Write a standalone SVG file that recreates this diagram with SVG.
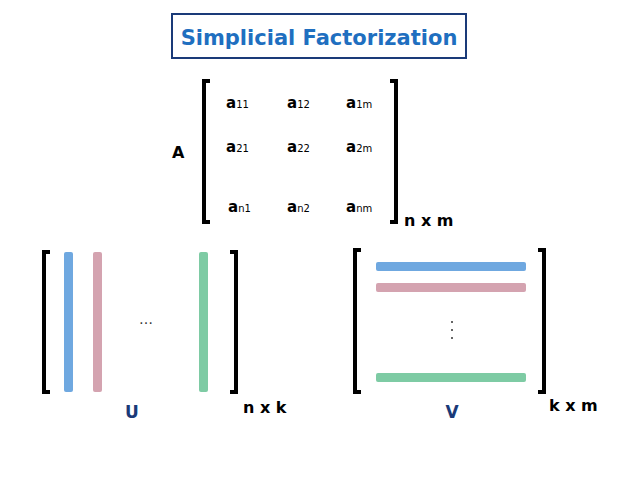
<svg xmlns="http://www.w3.org/2000/svg" width="638" height="479" viewBox="0 0 638 479">
<style>
.br{fill:none;stroke:#000;stroke-width:4}
.t{font-family:"DejaVu Sans",sans-serif;font-size:15px;font-weight:bold;fill:#000}
.s{font-size:10px;font-weight:normal}
.lab{font-family:"DejaVu Sans",sans-serif;font-size:16px;font-weight:bold;fill:#000}
.uv{font-family:"DejaVu Sans",sans-serif;font-size:17px;font-weight:bold;fill:#1a3a78}
</style>
<rect width="638" height="479" fill="#fff"/>
<g id="title">
<rect x="172" y="14" width="294" height="44" fill="#fff" stroke="#1a3a78" stroke-width="2"/>
<text x="319" y="45" text-anchor="middle" font-family="DejaVu Sans, sans-serif" font-size="21" font-weight="bold" fill="#1f6fc0">Simplicial Factorization</text>
</g>
<g id="matrixA">
<text x="172" y="158" class="lab" font-size="18">A</text>
<path class="br" d="M210,81 H204 V222 H210"/>
<path class="br" d="M390,81 H396 V222 H390"/>
<text class="t" x="226" y="108">a<tspan class="s">11</tspan></text>
<text class="t" x="287" y="108">a<tspan class="s">12</tspan></text>
<text class="t" x="346" y="108">a<tspan class="s">1m</tspan></text>
<text class="t" x="226" y="152">a<tspan class="s">21</tspan></text>
<text class="t" x="287" y="152">a<tspan class="s">22</tspan></text>
<text class="t" x="346" y="152">a<tspan class="s">2m</tspan></text>
<text class="t" x="228" y="212">a<tspan class="s">n1</tspan></text>
<text class="t" x="287" y="212">a<tspan class="s">n2</tspan></text>
<text class="t" x="346" y="212">a<tspan class="s">nm</tspan></text>
<text class="lab" x="404" y="226">n x m</text>
</g>
<g id="matrixU">
<path class="br" d="M50,252 H44 V392 H50"/>
<path class="br" d="M230,252 H236 V392 H230"/>
<rect x="64" y="252" width="9" height="140" rx="2" fill="#6fa8e0"/>
<rect x="93" y="252" width="9" height="140" rx="2" fill="#d4a3b0"/>
<rect x="199" y="252" width="9" height="140" rx="2" fill="#7ecba4"/>
<text x="146" y="324" text-anchor="middle" font-family="DejaVu Sans, sans-serif" font-size="14" fill="#333">…</text>
<text class="uv" x="132" y="418" text-anchor="middle">U</text>
<text class="lab" x="243" y="413">n x k</text>
</g>
<g id="matrixV">
<path class="br" d="M361,250 H355 V392 H361"/>
<path class="br" d="M538,250 H544 V392 H538"/>
<rect x="376" y="262" width="150" height="9" rx="2" fill="#6fa8e0"/>
<rect x="376" y="283" width="150" height="9" rx="2" fill="#d4a3b0"/>
<rect x="376" y="373" width="150" height="9" rx="2" fill="#7ecba4"/>
<g fill="#333"><circle cx="452" cy="322" r="1"/><circle cx="452" cy="330" r="1"/><circle cx="452" cy="338" r="1"/></g>
<text class="uv" x="452" y="418" text-anchor="middle">V</text>
<text class="lab" x="549" y="411">k x m</text>
</g>
</svg>
